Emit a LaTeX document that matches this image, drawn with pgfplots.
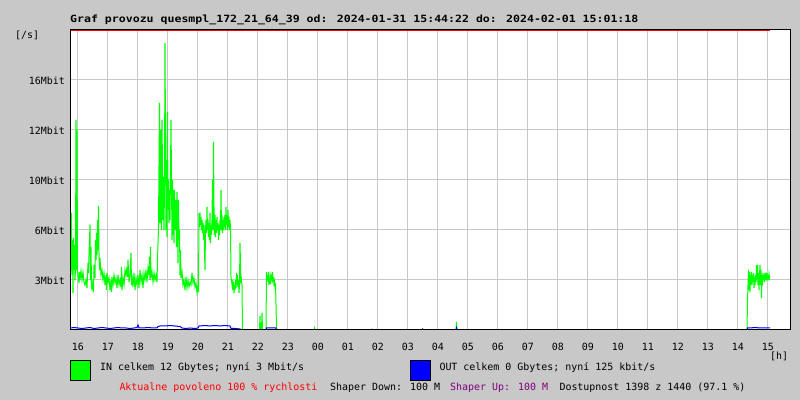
\documentclass[border=0pt]{standalone}
\usepackage{fontspec}
\setmainfont{DejaVu Sans Mono}
\usepackage{graphicx}
\usepackage{pgfplots}
\pgfplotsset{compat=1.18}
\definecolor{bggray}{HTML}{C8C8C8}
\definecolor{ingreen}{HTML}{00FF00}
\definecolor{outblue}{HTML}{0000FF}
\definecolor{limred}{HTML}{FF0000}
\definecolor{upurple}{HTML}{800080}
\begin{document}
\begin{tikzpicture}
\fill[bggray] (0bp,0bp) rectangle (800bp,400bp);
\useasboundingbox (0bp,0bp) rectangle (800bp,400bp);
\begin{axis}[
  name=ax, at={(70bp,70bp)}, anchor=south west,
  width=720bp, height=300bp, scale only axis,
  xmin=0, xmax=1440, ymin=0, ymax=19200,
  scaled x ticks=false, scaled y ticks=false,
  axis background/.style={fill=white},
  axis line style={draw=none},
  xtick={15.63,75.63,135.63,195.63,255.63,315.63,375.63,435.63,495.63,555.63,615.63,675.63,735.63,795.63,855.63,915.63,975.63,1035.63,1095.63,1155.63,1215.63,1275.63,1335.63,1395.63},
  xticklabels={16,17,18,19,20,21,22,23,00,01,02,03,04,05,06,07,08,09,10,11,12,13,14,15},
  ytick={3200,6400,9600,12800,16000},
  yticklabels={3Mbit,6Mbit,10Mbit,12Mbit,16Mbit},
  major tick length=0pt,
  grid=major, major grid style={draw=bggray, line width=1bp},
  xticklabel style={anchor=base, yshift=-20.7bp},
  yticklabel style={anchor=east, xshift=-1.5bp, yshift=-1bp},
  every axis plot/.append style={line width=1bp, mark=none},
]
\addplot[color=ingreen] coordinates {
(2,3840)(3,7488)(4,3520)(5,5760)(6,2368)(7,5888)(8,3840)(9,5440)(10,3200)(11,3968)(12,13440)(13,3840)(14,12800)(15,3840)(16,3520)(18,3008)(19,3712)(20,3200)(22,3776)(24,3200)(26,3712)(28,3072)(30,2880)(32,3200)(34,2688)(36,4288)(37,3648)(38,4800)(40,6720)(41,3200)(42,5312)(43,2880)(44,2560)(46,3200)(47,2432)(48,4160)(50,3328)(51,5760)(52,4480)(53,6208)(54,4800)(55,7040)(56,5120)(57,7936)(58,4928)(59,3840)(60,4608)(62,3520)(64,3840)(66,3200)(68,3648)(70,2880)(72,3520)(73,2560)(74,3648)(76,3072)(78,3328)(80,2560)(82,3200)(83,2432)(84,3392)(86,2880)(88,3520)(90,3008)(92,3328)(94,2688)(96,3520)(98,2880)(100,3200)(102,2752)(103,4032)(104,2560)(106,3328)(108,2880)(110,3840)(112,3520)(114,4032)(115,3392)(116,4480)(118,3072)(120,3520)(122,4928)(123,2880)(124,3520)(126,2752)(128,3648)(130,2560)(132,3328)(134,2880)(136,3520)(138,2688)(140,3840)(142,3072)(144,3520)(146,2688)(148,3648)(150,3200)(152,3840)(154,3072)(156,3968)(158,3520)(159,4672)(160,3200)(161,5312)(162,3328)(164,3712)(166,3072)(168,3648)(170,3200)(172,3520)(174,3072)(175,4480)(176,5568)(177,6592)(179,14528)(180,6848)(181,12800)(182,7680)(183,6400)(184,13440)(186,7040)(187,9792)(188,6400)(189,9280)(190,18368)(192,6400)(193,10880)(194,5952)(195,13952)(196,7680)(197,9600)(198,6848)(199,8960)(200,7040)(201,10240)(202,13440)(204,5760)(205,9600)(206,6080)(207,8960)(208,5568)(209,8960)(210,6400)(212,8320)(213,5312)(214,8832)(216,4288)(217,8320)(218,5760)(219,6400)(220,3520)(221,5120)(222,3328)(224,3712)(226,2880)(228,3200)(230,2560)(232,3392)(234,2688)(236,3200)(238,2752)(240,3072)(242,2880)(244,3648)(246,3008)(248,3328)(250,2752)(252,3008)(254,2368)(256,2880)(257,2432)(258,7488)(259,6592)(260,7488)(261,6720)(262,7232)(263,6400)(264,7040)(265,6208)(266,6848)(267,5760)(268,6720)(269,4928)(270,3840)(271,6400)(272,7040)(273,6208)(274,7872)(275,6400)(276,7040)(277,5952)(278,6848)(279,5760)(280,7488)(281,5568)(282,6720)(283,6080)(284,7040)(285,9600)(286,6400)(287,12032)(288,7872)(289,6080)(290,7360)(291,5952)(292,7040)(293,6208)(294,7232)(295,6400)(296,6848)(297,5760)(298,6720)(299,6080)(300,7040)(301,6400)(302,8960)(303,6400)(304,7360)(305,6208)(306,7040)(307,6400)(308,7232)(309,6592)(310,7360)(311,6400)(312,7872)(313,6720)(314,7360)(315,6400)(316,7680)(317,6592)(318,7232)(319,6400)(320,7040)(321,6592)(322,3392)(324,2880)(325,3200)(326,2560)(327,3072)(328,2368)(329,2880)(330,2560)(331,3200)(332,2688)(333,3648)(334,2880)(335,3520)(336,2752)(337,3200)(338,2368)(339,2880)(340,5568)(342,3008)(343,3200)(344,2880)(345,0)(379,0)(380,896)(381,0)(383,0)(384,1088)(385,0)(392,0)(393,3712)(394,3200)(395,3520)(396,3072)(397,3712)(398,2880)(400,3328)(401,2944)(402,3520)(404,3200)(405,3712)(406,3072)(407,3392)(408,2816)(409,3072)(410,2752)(411,3008)(413,192)(414,0)(488,0)(489,128)(490,0)(603,0)(604,64)(605,0)(772,0)(773,512)(774,0)(1354,0)(1355,1920)(1357,3840)(1358,2560)(1359,3712)(1360,2432)(1361,3520)(1362,2880)(1363,3712)(1364,2880)(1365,3520)(1366,3072)(1367,3648)(1368,2688)(1369,3392)(1370,2880)(1371,3520)(1372,3072)(1373,4160)(1374,3200)(1375,4160)(1376,2880)(1377,3648)(1378,2560)(1379,3520)(1380,4160)(1381,2880)(1382,3840)(1383,2048)(1384,3520)(1385,2880)(1386,3648)(1387,3200)(1388,3520)(1389,3072)(1390,3648)(1391,3200)(1392,3520)(1393,3328)(1394,3648)(1395,3200)(1396,3520)(1397,3200)(1398,3584)(1399,3328)(1400,3456)
};
\addplot[color=outblue] coordinates {
(1,128)(8,160)(16,128)(24,96)(32,128)(40,160)(48,96)(56,128)(64,160)(72,128)(80,96)(88,128)(96,160)(104,128)(112,128)(120,96)(128,128)(134,160)(136,320)(138,128)(146,128)(156,160)(166,128)(174,128)(176,224)(180,256)(190,256)(200,288)(210,256)(220,224)(224,128)(232,96)(240,128)(250,96)(256,128)(258,256)(270,288)(280,256)(290,288)(300,256)(310,288)(320,256)(322,96)(330,96)(340,64)(344,0)(392,0)(393,128)(412,128)(413,0)(704,0)(705,64)(706,0)(772,0)(773,128)(774,0)(1354,0)(1355,128)(1360,128)(1370,160)(1380,128)(1390,128)(1400,128)
};
\addplot[color=limred] coordinates {(0,19136)(1400,19136)};
\end{axis}
\draw[black, line width=1bp] (70bp,70bp) rectangle (790bp,370bp);
\node[anchor=base west, inner sep=0pt] at (70bp,377.8bp) {\scalebox{1.16}[1]{\bfseries Graf provozu quesmpl\_172\_21\_64\_39 od: 2024-01-31 15:44:22 do: 2024-02-01 15:01:18}};
\node[anchor=base west, inner sep=0pt] at (15bp,361bp) {[/s]};
\node[anchor=base west, inner sep=0pt] at (770bp,40.6bp) {[h]};
\draw[black, fill=ingreen, line width=1bp] (70.5bp,19.5bp) rectangle (90.5bp,39.5bp);
\node[anchor=base west, inner sep=0pt] at (100bp,29.3bp) {IN celkem 12 Gbytes; nyní 3 Mbit/s};
\draw[black, fill=outblue, line width=1bp] (410.5bp,19.5bp) rectangle (430.5bp,39.5bp);
\node[anchor=base west, inner sep=0pt] at (439.3bp,29.3bp) {OUT celkem 0 Gbytes; nyní 125 kbit/s};
\node[anchor=base west, inner sep=0pt, text=limred] at (119.3bp,9.3bp) {Aktualne povoleno 100 \% rychlosti};
\node[anchor=base west, inner sep=0pt] at (330bp,9.3bp) {Shaper Down: 100 M};
\node[anchor=base west, inner sep=0pt, text=upurple] at (450bp,9.3bp) {Shaper Up: 100 M};
\node[anchor=base west, inner sep=0pt] at (559.3bp,9.3bp) {Dostupnost 1398 z 1440 (97.1 \%)};
\end{tikzpicture}
\end{document}
